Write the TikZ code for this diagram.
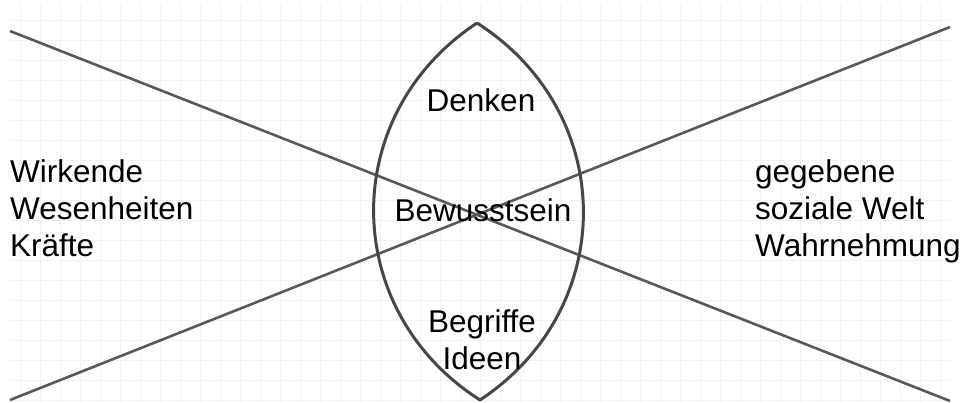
\documentclass[tikz,border=0pt]{standalone}
\usepackage{fontspec}
\setmainfont{Liberation Sans}

\begin{document}
\begin{tikzpicture}[x=1pt,y=-1pt, every node/.style={font=\fontsize{31.5}{37}\selectfont, inner sep=0pt, align=left},
    pen/.style={line width=2.6pt, draw=black!65},
    lens/.style={line width=3pt, draw=black!72, line join=round},
    paper/.style={black!5, line width=0.8pt}]
    \useasboundingbox (0,0) rectangle (967,403);
    \fill[white] (0,0) rectangle (967,403);
    % graph paper
    \foreach \gx in {20,40,...,940} \draw[paper] (\gx,4) -- (\gx,403);
    \foreach \gy in {20,40,...,400} \draw[paper] (10,\gy) -- (950,\gy);
    % the two crossing lines
    \coordinate (a1) at (10,31);
    \coordinate (a2) at (950,401);
    \coordinate (b1) at (10,400);
    \coordinate (b2) at (950,27);
    \draw[pen] (a1) -- (a2);
    \draw[pen] (b1) -- (b2);
    % the lens
    \coordinate (top) at (477,23);
    \coordinate (bot) at (480,400);
    \draw[lens] (top) to[bend right=57, looseness=1.13] (bot) to[bend right=57, looseness=1.13] (top);
    \node[anchor=base west] (wirk) at (10,257) {Wirkende\\Wesenheiten\\Kräfte};
    \node[anchor=base west] (welt) at (755,257) {gegebene\\soziale Welt\\Wahrnehmung};
    \node[anchor=base] (denken) at (481,112) {Denken};
    \node[anchor=base] (bew) at (483,222) {Bewusstsein};
    \node[anchor=base, align=center] (begr) at (482,370) {Begriffe\\Ideen};
\end{tikzpicture}
\end{document}
